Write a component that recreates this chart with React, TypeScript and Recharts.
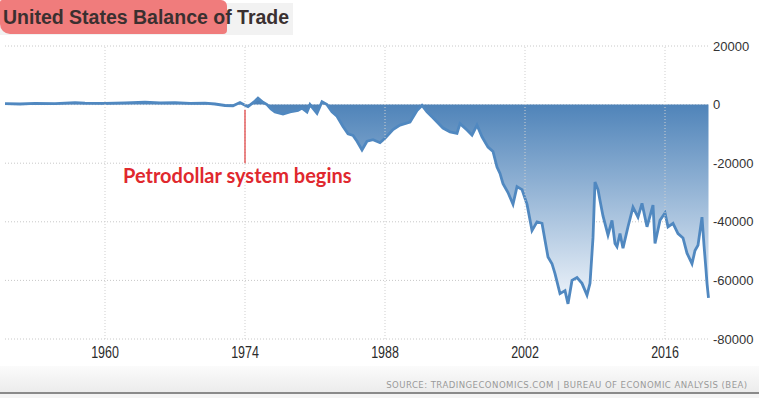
import React from 'react';
import { AreaChart, Area, XAxis, YAxis, CartesianGrid, ReferenceLine } from 'recharts';

// years (decimal) and monthly-ish balance readings, millions USD
const years = [
  1950, 1951.5, 1953, 1955, 1957, 1958, 1960, 1962, 1964, 1965.5, 1967, 1968.5, 1970, 1971, 1972, 1972.8,
  1973.5, 1974, 1974.3, 1975, 1975.3, 1975.8, 1976.2, 1976.6, 1977, 1977.8, 1978.5, 1979.3, 1979.7, 1980.2,
  1980.5, 1981.2, 1981.7, 1982.2, 1982.7, 1983.2, 1983.8, 1984.3, 1984.8, 1985.2, 1985.7, 1986.2, 1986.8,
  1987.5, 1988, 1988.8, 1989.5, 1990.5, 1991.2, 1991.7, 1992.2, 1992.8, 1993.8, 1994.5, 1995.2, 1995.5,
  1996.2, 1996.7, 1997.2, 1997.7, 1998.3, 1998.8, 1999.2, 1999.5, 1999.8, 2000.3, 2000.8, 2001.2, 2001.7,
  2002.2, 2002.7, 2003.2, 2003.7, 2004, 2004.3, 2004.7, 2005, 2005.5, 2006, 2006.3, 2006.7, 2007.2, 2007.7,
  2008.2, 2008.5, 2008.8, 2009, 2009.3, 2009.5, 2009.8, 2010.3, 2010.7, 2011, 2011.2, 2011.5, 2011.8,
  2012.3, 2012.8, 2013.3, 2013.7, 2014.2, 2014.8, 2015, 2015.5, 2016, 2016.3, 2016.8, 2017.3, 2017.8,
  2018.2, 2018.7, 2019, 2019.3, 2019.7, 2019.9, 2020.1, 2020.2, 2020.35,
];
const balance = [
  300, 200, 400, 300, 700, 500, 400, 600, 800, 600, 700, 400, 500, 200, -300, -400,
  700, -200, -700, 1200, 2200, 800, 0, -1500, -2500, -3200, -2500, -2000, -1200, -2500,
  0, -3000, 1000, 0, -2500, -4000, -7500, -10000, -10500, -12500, -15500, -12500, -12000,
  -13000, -11500, -8500, -7000, -6000, -2000, -300, -2500, -4500, -8000, -9300, -9800, -6500,
  -8700, -10400, -7000, -11000, -14500, -16000, -21300, -23500, -27000, -30000, -34000, -28000, -29000,
  -34000, -43000, -40000, -40500, -46300, -52000, -54300, -57700, -64500, -63500, -68000, -60000, -59000, -61000,
  -65000, -61000, -45500, -26400, -29000, -32700, -38000, -44500, -39500, -47400, -48500, -44000, -49000,
  -41700, -35000, -38400, -33700, -41700, -34300, -47400, -39500, -37000, -41700, -40500, -44000, -45500,
  -50700, -54300, -49800, -48000, -38400, -48000, -56400, -61000, -66000,
];
const xTicks = [1960, 1974, 1988, 2002, 2016];
const yTicks = [20000, 0, -20000, -40000, -60000, -80000];

const data = years.map((year, i) => ({ year, value: balance[i] }));

// condensed year labels, like the narrow font in the original
const YearTick = (props: any) => {
  const { x, y, payload } = props;
  return (
    <text
      transform={`translate(${x},${y}) scale(0.78,1)`}
      textAnchor="middle"
      dy="0.71em"
      fill="#2b2b2b"
      fontSize={16}
      fontFamily='"Liberation Sans", Arial, sans-serif'
    >
      {payload.value}
    </text>
  );
};

export default function App() {
  return (
    <div style={{ position: 'absolute', left: 0, top: 0, width: 759, height: 398, background: '#fff', overflow: 'hidden', fontFamily: '"Liberation Sans", Arial, sans-serif' }}>
      {/* title with marker highlight */}
      <div style={{ position: 'absolute', left: 0, top: 3, width: 293, height: 32, background: '#f2f2f2' }} />
      <div style={{ position: 'absolute', left: 0, top: 0, width: 227, height: 34, background: '#f07c7c', borderRadius: '2px 6px 4px 10px' }} />
      <div style={{ position: 'absolute', left: 3, top: 6, fontSize: 19.5, fontWeight: 700, color: '#3a3030', whiteSpace: 'nowrap' }}>
        United States Balance of Trade
      </div>

      <div style={{ position: 'absolute', left: 0, top: 366, width: 759, height: 26, background: 'linear-gradient(#fbfbfb, #ececec)' }} />
      <div style={{ position: 'absolute', left: 0, top: 392, width: 759, height: 2, background: '#8a8a8a' }} />
      <div style={{ position: 'absolute', left: 0, top: 394, width: 759, height: 4, background: '#f4f4f4' }} />

      <div style={{ position: 'absolute', left: 0, top: 0 }}>
        <AreaChart width={759} height={398} data={data} margin={{ top: 46, right: 0, bottom: 30, left: 5 }}>
          <defs>
            <linearGradient id="tradeFill" x1="0" y1="0" x2="0" y2="1">
              <stop offset="0%" stopColor="#4a80b7" />
              <stop offset="100%" stopColor="#f0f5fb" />
            </linearGradient>
          </defs>
          <CartesianGrid stroke="#c8c8c8" strokeDasharray="1 2" vertical={false} />
          {xTicks.map((t) => (
            <ReferenceLine key={t} x={t} stroke="#cfcfcf" strokeDasharray="1 2" />
          ))}
          <XAxis
            dataKey="year"
            type="number"
            domain={[1950, 2020.4]}
            ticks={xTicks}
            axisLine={false}
            tickLine={false}
            tickSize={4}
            tickMargin={4}
            height={29}
            tick={<YearTick />}
          />
          <YAxis
            orientation="right"
            type="number"
            domain={[-80000, 20000]}
            ticks={yTicks}
            axisLine={false}
            tickLine={false}
            tickSize={0}
            tickMargin={4}
            width={50}
            tick={{ fill: '#333', fontSize: 13, textAnchor: 'start' }}
          />
          <Area
            type="linear"
            dataKey="value"
            stroke="#5088c0"
            strokeWidth={2.8}
            fill="url(#tradeFill)"
            fillOpacity={1}
            isAnimationActive={false}
            dot={false}
          />
          <ReferenceLine
            segment={[{ x: 1974, y: -1800 }, { x: 1974, y: -20000 }]}
            stroke="#e03a3a"
            strokeWidth={1.2}
          />
        </AreaChart>
      </div>

      <div style={{ position: 'absolute', left: 123, top: 163, fontSize: 20, fontWeight: 700, color: '#e0282e', fontFamily: 'Lato, "Open Sans", sans-serif', whiteSpace: 'nowrap' }}>
        Petrodollar system begins
      </div>

      <div style={{ position: 'absolute', right: 11, top: 379, fontSize: 9.5, letterSpacing: 0.5, color: '#9a9a9a', fontFamily: '"DejaVu Sans", sans-serif', transform: 'scaleX(0.9)', transformOrigin: 'right', whiteSpace: 'nowrap' }}>
        SOURCE: TRADINGECONOMICS.COM | BUREAU OF ECONOMIC ANALYSIS (BEA)
      </div>
    </div>
  );
}
